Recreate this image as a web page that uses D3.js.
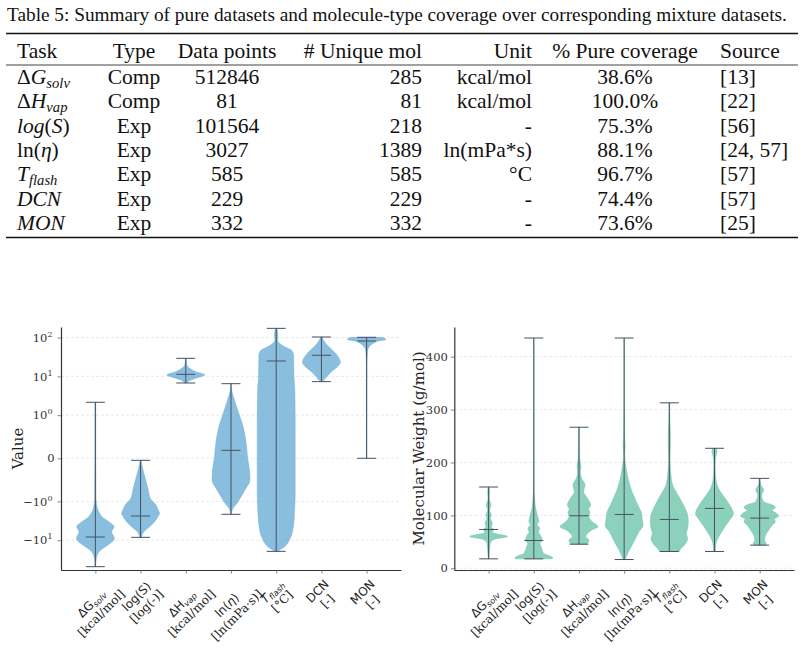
<!DOCTYPE html>
<html>
<head>
<meta charset="utf-8">
<script src="https://cdnjs.cloudflare.com/ajax/libs/d3/7.8.5/d3.min.js"></script>
<style>
  body { margin: 0; background: #fff; }
  svg { display: block; }
  .tbl text { font-family: 'Liberation Serif', 'Times New Roman', serif; font-size: 21.5px; fill: #111; }
  .tbl text.caption { font-size: 19.3px; }
  .axis text { font-family: 'DejaVu Serif', serif; font-size: 11.5px; fill: #333; }
  .axis path { stroke: #333; stroke-width: 1.2; }
  .axis line { stroke: #666; stroke-width: 0.8; }
  .grid line { stroke: #e4e4e4; stroke-width: 0.8; stroke-dasharray: 3,2; }
  .ylabel { font-family: 'DejaVu Serif', serif; font-size: 15px; fill: #222; }
  .xlab text { font-size: 12px; fill: #222; }
  .xlab .main { font-family: 'DejaVu Sans', sans-serif; }
  .xlab .unit { font-family: 'DejaVu Serif', serif; }
  .stat { stroke: #465162; stroke-width: 1; }
</style>
</head>
<body>
<svg id="fig" width="808" height="652"></svg>
<script>

// ---- table data ----
var caption = 'Table 5: Summary of pure datasets and molecule-type coverage over corresponding mixture datasets.';
var headers = ['Task', 'Type', 'Data points', '# Unique mol', 'Unit', '% Pure coverage', 'Source'];
var tableTasks = ['Δ*G*_{solv}', 'Δ*H*_{vap}', '*log*(*S*)', 'ln(*η*)', '*T*_{flash}', '*DCN*', '*MON*'];
var taskTypes = ['Comp', 'Comp', 'Exp', 'Exp', 'Exp', 'Exp', 'Exp'];
var dataPoints = ['512846', '81', '101564', '3027', '585', '229', '332'];
var uniqueMol = ['285', '81', '218', '1389', '585', '229', '332'];
var units = ['kcal/mol', 'kcal/mol', '-', 'ln(mPa*s)', '°C', '-', '-'];
var coverage = ['38.6%', '100.0%', '75.3%', '88.1%', '96.7%', '74.4%', '73.6%'];
var sources = ['[13]', '[22]', '[56]', '[24, 57]', '[57]', '[57]', '[25]'];

// ---- violin data (chart order) ----
var tasks = ['dG', 'logS', 'dH', 'lnEta', 'Tflash', 'DCN', 'MON'];
var taskLabels = ['ΔG_{solv}', 'log(S)', 'ΔH_{vap}', 'ln(*η*)', '*T*_{flash}', 'DCN', 'MON'];
var taskUnits = ['[kcal/mol]', '[log(-)]', '[kcal/mol]', '[ln(mPa·s)]', '[°C]', '[-]', '[-]'];

// left panel: property values, profile = [value, density]
var valueMin = [-48.1, -8.43, 6.76, -2.15, -19.4, 7.33, 0];
var valueMax = [2.15, -0.047, 29.2, 6.49, 173, 103.6, 101.6];
var valueMedian = [-8.27, -2.38, 11.3, 0.185, 24.9, 35.0, 81.7];
var valueProfiles = [
  [[2.15,1],[1,1.2],[0,1.3],[-0.93,2],[-1.24,4],[-1.84,10],[-2.73,25],[-3.33,40],[-4.48,56],[-6.03,49],[-8.95,57],[-12.0,45],[-14.7,30],[-17.9,16],[-21.8,8],[-29.3,3],[-48.1,1]],
  [[-0.047,1],[-0.233,6],[-0.465,14],[-0.697,22],[-0.928,29],[-1.24,46],[-1.666,53],[-2.03,57],[-2.47,52],[-3.33,42],[-4.48,27],[-6.03,10],[-8.43,2]],
  [[29.2,1],[19.7,3],[16.1,12],[13.2,30],[10.9,57],[9.27,35],[8.07,15],[6.76,3]],
  [[6.49,0.5],[4.05,3],[2.23,12],[1.01,25],[0.772,35],[0.386,45],[0,50],[-0.31,56],[-0.503,57],[-0.697,45],[-0.89,30],[-1.12,18],[-1.51,6],[-2.15,1]],
  [[173,2],[117,5],[86.7,4],[71.1,10],[58.3,25],[47.9,45],[35.6,52],[10.9,53],[4.05,56],[0.772,57],[-0.773,57],[-1.84,55],[-4.06,52],[-8.95,42],[-14.7,25],[-19.4,4]],
  [[103.6,2],[78.6,9],[58.3,22],[43.4,38],[32.3,50],[23.1,57],[17.8,48],[13.2,30],[9.87,16],[8.07,8],[7.33,3]],
  [[101.6,45],[95.9,55],[88.5,57],[81.7,35],[71.1,20],[58.3,8],[47.9,3],[20,1],[1,0.6],[0,0.5]]
];
var valueTicks = [-10, -1, 0, 1, 10, 100];

// right panel: molecular weight (g/mol)
var mwMin = [17.9, 17.9, 45.6, 16.6, 31.8, 31.8, 43.8];
var mwMax = [153.6, 435.2, 266.6, 435.2, 312.7, 226.8, 170.0];
var mwMedian = [73.4, 52.6, 99.3, 101.8, 92.4, 113.2, 94.9];
var mwProfiles = [
  [[153.6,1],[144.8,3],[132.1,2],[119.5,7],[110,3],[100.6,8],[94.3,5],[84.8,11],[78.5,8],[73.4,15],[67.7,11],[60.2,57],[55.1,18],[50.1,7],[43.8,4],[34.3,3],[24.8,2],[17.9,1]],
  [[435.2,0.5],[271,0.6],[144.8,1],[138.4,2],[119.5,4],[106.9,8],[97.4,12],[87.9,15],[82.9,10],[75.3,18],[69,14],[62.7,20],[53.2,25],[46.9,18],[40.6,22],[34.3,25],[28,30],[22.9,50],[19.8,57],[17.9,55]],
  [[266.6,1],[207.9,2],[192.1,6],[182.6,4],[170,8],[157.4,18],[144.8,14],[132.1,26],[119.5,35],[111.9,29],[105.6,33],[97.4,30],[87.9,40],[78.5,57],[72.2,38],[65.9,26],[59.5,20],[53.2,30],[48.8,28],[45.6,22]],
  [[435.2,0.5],[318,0.6],[250,1.5],[231,3],[214.2,1.5],[189,6],[166.9,13],[144.7,24],[132,33],[119,42],[106.8,52],[94.3,55],[81.6,58],[68.9,45],[56.4,35],[43.8,24],[31.1,13],[18.6,4],[16.6,2]],
  [[312.7,1],[277.3,1.5],[258.4,3],[233.1,3],[207.9,2],[182.6,4],[157.4,10],[144.8,20],[132.1,32],[116.3,45],[100.6,55],[87.9,57],[75.3,55],[65.9,51],[56.4,55],[43.8,45],[36.2,33],[31.8,30]],
  [[226.8,5],[220.5,8],[211,4],[195.3,2],[170,4],[151.1,12],[138.4,25],[125.8,40],[110,55],[103.7,58],[94.3,50],[81.6,35],[69,22],[56.4,10],[43.8,4],[31.8,3]],
  [[170,1],[157.4,4],[147.9,12],[138.4,6],[125.8,12],[119.5,40],[114.5,48],[110,38],[103.7,52],[98.7,58],[93,45],[87.9,48],[81.6,38],[72.2,28],[62.7,18],[53.2,15],[46.9,20],[43.8,18]]
];
var mwTicks = [0, 100, 200, 300, 400];

var svg = d3.select('#fig');

// small rich-text helper: _{..} subscript (italic), *..* italic
var addRich = function(sel, str, size) {
  var re = /_\{([^}]*)\}|\*([^*]*)\*|([^_*]+)/g, m, lowered = false;
  while ((m = re.exec(str)) !== null) {
    var ts = sel.append('tspan');
    if (m[1] !== undefined) {
      ts.text(m[1]).style('font-style', 'italic')
        .attr('font-size', size * 0.68).attr('dy', size * 0.18);
      lowered = true;
    } else {
      ts.text(m[2] || m[3]);
      if (m[2]) ts.style('font-style', 'italic');
      if (lowered) { ts.attr('dy', -size * 0.18); lowered = false; }
    }
  }
};

// ---------------- table ----------------
var tbl = svg.append('g').attr('class', 'tbl');

tbl.append('text').attr('class', 'caption')
  .attr('x', 7).attr('y', 21)
  .text(caption);

var cols = [
  {x: 17,  anchor: 'start'},
  {x: 134, anchor: 'middle'},
  {x: 227, anchor: 'middle'},
  {x: 422, anchor: 'end'},
  {x: 532, anchor: 'end'},
  {x: 625, anchor: 'middle'},
  {x: 720, anchor: 'start'}
];

[[33.5, 1.4], [65, 0.8], [237.5, 1.4]].forEach(function(r) {
  tbl.append('line')
    .attr('x1', 6).attr('x2', 798).attr('y1', r[0]).attr('y2', r[0])
    .attr('stroke', '#111').attr('stroke-width', r[1]);
});

headers.forEach(function(h, i) {
  tbl.append('text').attr('x', cols[i].x).attr('y', 58)
    .attr('text-anchor', cols[i].anchor).text(h);
});

var rowY = function(i) { return 84 + i * 24.3; };
var columns = [null, taskTypes, dataPoints, uniqueMol, units, coverage, sources];

tableTasks.forEach(function(t, i) {
  var txt = tbl.append('text').attr('x', cols[0].x).attr('y', rowY(i));
  addRich(txt, t, 21.5);
  for (var c = 1; c < columns.length; c++) {
    tbl.append('text').attr('x', cols[c].x).attr('y', rowY(i))
      .attr('text-anchor', cols[c].anchor).text(columns[c][i]);
  }
});

// ---------------- violin panels ----------------
var drawPanel = function(o) {

  var g = svg.append('g');

  var x = d3.scalePoint()
    .domain(tasks)
    .range([o.left, o.right])
    .padding(0.76);

  var step = x.step(),
      hwMax = 0.42 * step,
      capHalf = 0.21 * step;

  // grid
  g.append('g').attr('class', 'grid')
    .selectAll('line')
    .data(o.ticks)
  .enter().append('line')
    .attr('x1', o.left).attr('x2', o.right)
    .attr('y1', o.y).attr('y2', o.y);

  // bodies
  tasks.forEach(function(t, i) {
    var prof = o.profiles[i],
        cx = x(t),
        maxD = d3.max(prof, function(d) { return d[1]; });

    var area = d3.area()
      .curve(d3.curveMonotoneY)
      .y(function(d) { return o.y(d[0]); })
      .x0(function(d) { return cx - hwMax * d[1] / maxD; })
      .x1(function(d) { return cx + hwMax * d[1] / maxD; });

    g.append('path')
      .datum(prof)
      .attr('d', area)
      .attr('fill', o.color)
      .attr('fill-opacity', o.opacity)
      .attr('stroke', o.color)
      .attr('stroke-opacity', 0.9)
      .attr('stroke-width', 0.5);
  });

  // whiskers, caps and medians
  var stats = g.append('g');
  tasks.forEach(function(t, i) {
    var cx = x(t);
    stats.append('line').attr('class', 'stat')
      .attr('x1', cx).attr('x2', cx)
      .attr('y1', o.y(o.max[i])).attr('y2', o.y(o.min[i]));
    [o.max[i], o.min[i], o.median[i]].forEach(function(v) {
      stats.append('line').attr('class', 'stat')
        .attr('x1', cx - capHalf).attr('x2', cx + capHalf)
        .attr('y1', o.y(v)).attr('y2', o.y(v));
    });
  });

  // y axis
  var yAx = g.append('g').attr('class', 'axis')
    .attr('transform', 'translate(' + o.left + ',0)')
    .call(d3.axisLeft(o.yLin)
      .tickValues(o.ticks.map(o.tr))
      .tickSize(3.5).tickSizeOuter(0).tickPadding(3)
      .tickFormat(''));

  yAx.selectAll('.tick text').each(function(d, i) {
    o.tickLabel(d3.select(this), o.ticks[i]);
  });

  // x axis
  g.append('g').attr('class', 'axis')
    .attr('transform', 'translate(0,' + o.bottom + ')')
    .call(d3.axisBottom(x).tickSize(3.5).tickSizeOuter(0).tickFormat(''));

  // rotated two-line category labels
  tasks.forEach(function(t, i) {
    var outer = g.append('g').attr('class', 'xlab'),
        inner = outer.append('g').attr('transform', 'rotate(-45)');
    var l1 = inner.append('text').attr('class', 'main')
      .attr('text-anchor', 'middle').attr('y', 0);
    addRich(l1, taskLabels[i], 12);
    inner.append('text').attr('class', 'unit')
      .attr('text-anchor', 'middle').attr('y', 14)
      .text(taskUnits[i]);
    var bb = outer.node().getBBox();
    outer.attr('transform', 'translate(' + (x(t) + 1 - (bb.x + bb.width / 2)) + ',' + (o.bottom + 7 - bb.y) + ')');
  });

  // axis title
  g.append('text').attr('class', 'ylabel')
    .attr('transform', 'translate(' + o.titleX + ',' + ((o.top + o.bottom) / 2) + ') rotate(-90)')
    .attr('text-anchor', 'middle')
    .text(o.title);
};

// symlog transform (linthresh 1, base 10, linscale 1)
var LIN = 1 / (1 - 1 / 10);
var symlog = function(v) {
  var a = Math.abs(v);
  return a <= 1 ? v * LIN : Math.sign(v) * (LIN + Math.log10(a));
};

var yLeftLin = d3.scaleLinear().domain([-2.879, 3.384]).range([570, 327]);

drawPanel({
  left: 61, right: 401, top: 327, bottom: 570,
  yLin: yLeftLin,
  tr: symlog,
  y: function(v) { return yLeftLin(symlog(v)); },
  ticks: valueTicks,
  tickLabel: function(txt, v) {
    if (v === 0) { txt.text('0'); return; }
    txt.attr('dx', -2);
    txt.append('tspan').text((v < 0 ? '−' : '') + '10');
    txt.append('tspan').attr('font-size', 8).attr('dy', -5)
      .text(Math.round(Math.log10(Math.abs(v))));
  },
  profiles: valueProfiles, min: valueMin, max: valueMax, median: valueMedian,
  color: '#6baed6', opacity: 0.8,
  title: 'Value', titleX: 23
});

var yRight = d3.scaleLinear().domain([-3.2, 456]).range([570, 327]);

drawPanel({
  left: 454.3, right: 794, top: 327, bottom: 570,
  yLin: yRight,
  tr: function(v) { return v; },
  y: yRight,
  ticks: mwTicks,
  tickLabel: function(txt, v) { txt.text(v); },
  profiles: mwProfiles, min: mwMin, max: mwMax, median: mwMedian,
  color: '#66c2a5', opacity: 0.75,
  title: 'Molecular Weight (g/mol)', titleX: 423.5
});

</script>
</body>
</html>
